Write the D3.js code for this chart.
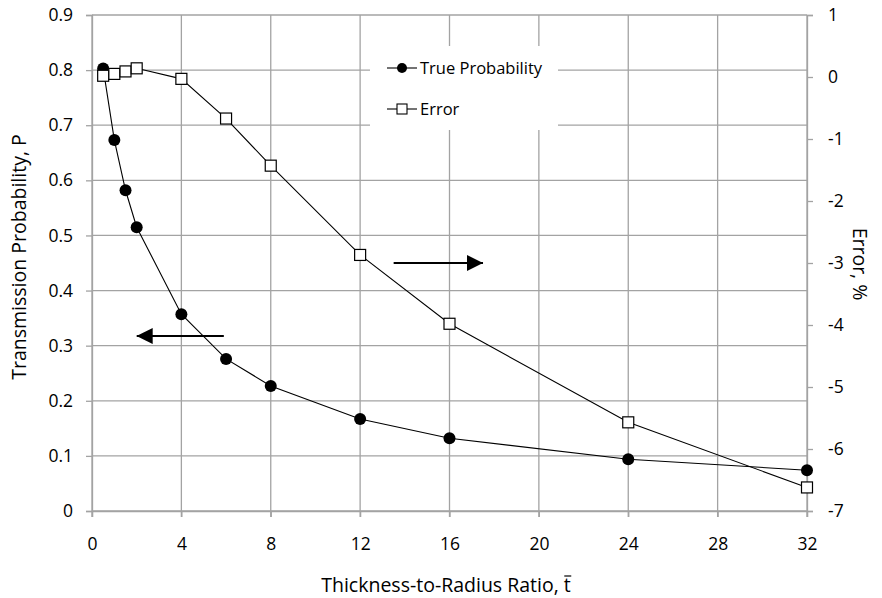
<!DOCTYPE html>
<html>
<head>
<meta charset="utf-8">
<script src="https://cdn.jsdelivr.net/npm/d3@7"></script>
<style>
  html, body { margin: 0; padding: 0; background: #fff; }
  svg text { font-family: "Open Sans", Lato, "Liberation Sans", sans-serif; fill: #000; }
</style>
</head>
<body>
<svg id="chart" width="882" height="598"></svg>
<script>
// Thickness-to-radius ratio values
const ratios = [0.5, 1, 1.5, 2, 4, 6, 8, 12, 16, 24, 32];
// Transmission probability (left axis)
const trueProbability = [0.803, 0.673, 0.582, 0.515, 0.357, 0.276, 0.227, 0.167, 0.132, 0.094, 0.074];
// Error in percent (right axis)
const errorPct = [0.02, 0.05, 0.09, 0.14, -0.03, -0.67, -1.43, -2.87, -3.98, -5.57, -6.62];

const xTicks = [0, 4, 8, 12, 16, 20, 24, 28, 32];
const leftTicks = [0, 0.1, 0.2, 0.3, 0.4, 0.5, 0.6, 0.7, 0.8, 0.9];
const rightTicks = [-7, -6, -5, -4, -3, -2, -1, 0, 1];

const svg = d3.select("#chart");
const plot = { left: 92, right: 807, top: 15, bottom: 511 };
const grid = "#a3a3a3";
const font = "'Open Sans', Lato, sans-serif";

const x = d3.scaleLinear().domain([0, 32]).range([plot.left, plot.right]);
const yL = d3.scaleLinear().domain([0, 0.9]).range([plot.bottom, plot.top]);
const yR = d3.scaleLinear().domain([-7, 1]).range([plot.bottom, plot.top]);

// Gridlines
const g = svg.append("g");
g.selectAll(".hg").data(leftTicks).join("line")
  .attr("x1", plot.left).attr("x2", plot.right)
  .attr("y1", d => yL(d)).attr("y2", d => yL(d))
  .attr("stroke", grid).attr("stroke-width", 1.3);
g.selectAll(".vg").data(xTicks).join("line")
  .attr("x1", d => x(d)).attr("x2", d => x(d))
  .attr("y1", plot.top).attr("y2", plot.bottom + 6)
  .attr("stroke", grid).attr("stroke-width", 1.3);

// Axes
const axisL = svg.append("g").attr("transform", `translate(${plot.left},0)`)
  .call(d3.axisLeft(yL).tickValues(leftTicks).tickSize(6).tickPadding(13));
axisL.selectAll(".tick text").text(d => d === 0 ? "0" : d3.format(".1f")(d));
const axisR = svg.append("g").attr("transform", `translate(${plot.right},0)`)
  .call(d3.axisRight(yR).tickValues(rightTicks).tickSize(6).tickPadding(15));
axisR.selectAll(".tick text").text(d => d < 0 ? "-" + Math.abs(d) : d);
const axisB = svg.append("g").attr("transform", `translate(0,${plot.bottom})`)
  .call(d3.axisBottom(x).tickValues(xTicks).tickSize(6).tickPadding(21).tickFormat(d3.format("d")));

[axisL, axisR, axisB].forEach(a => {
  a.select(".domain").attr("stroke", grid).attr("stroke-width", 1.3);
  a.selectAll(".tick line").attr("stroke", grid).attr("stroke-width", 1.3);
  a.selectAll(".tick text").attr("font-size", 17.5).style("font-family", font);
});

// Axis titles
svg.append("text")
  .attr("transform", `translate(26,257) rotate(-90)`)
  .attr("text-anchor", "middle").attr("font-size", 19.5)
  .text("Transmission Probability, P");
svg.append("text")
  .attr("transform", `translate(853,264) rotate(90)`)
  .attr("text-anchor", "middle").attr("font-size", 19.5)
  .text("Error, %");
const xTitle = "Thickness-to-Radius Ratio, t";
const xt = svg.append("text")
  .attr("x", 446).attr("y", 592)
  .attr("text-anchor", "middle").attr("font-size", 19.5)
  .text(xTitle);
// bar over the final "t"
const tBox = xt.node().getExtentOfChar(xTitle.length - 1);
svg.append("line")
  .attr("x1", tBox.x + 0.5).attr("x2", tBox.x + tBox.width + 0.5)
  .attr("y1", 592 - 16).attr("y2", 592 - 16)
  .attr("stroke", "#000").attr("stroke-width", 1.2);

// Legend background
svg.append("rect").attr("x", 370).attr("y", 46).attr("width", 188).attr("height", 84).attr("fill", "#fff");

// Direction arrows
svg.append("defs").append("marker")
  .attr("id", "head").attr("viewBox", "0 0 16 16").attr("refX", 16).attr("refY", 8)
  .attr("markerWidth", 16).attr("markerHeight", 16).attr("markerUnits", "userSpaceOnUse")
  .attr("orient", "auto")
  .append("path").attr("d", "M0,0 L16,8 L0,16 Z").attr("fill", "#000");
svg.append("line")
  .attr("x1", x(13.5)).attr("x2", x(17.5)).attr("y1", yL(0.45)).attr("y2", yL(0.45))
  .attr("stroke", "#000").attr("stroke-width", 2).attr("marker-end", "url(#head)");
svg.append("line")
  .attr("x1", x(5.9)).attr("x2", x(2.0)).attr("y1", yL(0.3175)).attr("y2", yL(0.3175))
  .attr("stroke", "#000").attr("stroke-width", 2).attr("marker-end", "url(#head)");

// True probability series
const probPts = ratios.map((r, i) => [r, trueProbability[i]]);
svg.append("path").datum(probPts)
  .attr("d", d3.line().x(d => x(d[0])).y(d => yL(d[1])))
  .attr("fill", "none").attr("stroke", "#000").attr("stroke-width", 1.1);
svg.selectAll(".dot").data(probPts).join("circle")
  .attr("cx", d => x(d[0])).attr("cy", d => yL(d[1])).attr("r", 6).attr("fill", "#000");

// Error series
const errPts = ratios.map((r, i) => [r, errorPct[i]]);
svg.append("path").datum(errPts)
  .attr("d", d3.line().x(d => x(d[0])).y(d => yR(d[1])))
  .attr("fill", "none").attr("stroke", "#000").attr("stroke-width", 1.1);
svg.selectAll(".sq").data(errPts).join("rect")
  .attr("x", d => x(d[0]) - 5.5).attr("y", d => yR(d[1]) - 5.5)
  .attr("width", 11).attr("height", 11)
  .attr("fill", "#fff").attr("stroke", "#000").attr("stroke-width", 1.2);

// Legend entries
const leg = svg.append("g");
leg.append("line").attr("x1", 387).attr("x2", 417).attr("y1", 68).attr("y2", 68).attr("stroke", "#000").attr("stroke-width", 1.1);
leg.append("circle").attr("cx", 402).attr("cy", 68).attr("r", 5).attr("fill", "#000");
leg.append("text").attr("x", 420).attr("y", 74).attr("font-size", 16.5).text("True Probability");
leg.append("line").attr("x1", 387).attr("x2", 417).attr("y1", 109).attr("y2", 109).attr("stroke", "#000").attr("stroke-width", 1.1);
leg.append("rect").attr("x", 397).attr("y", 104).attr("width", 10).attr("height", 10).attr("fill", "#fff").attr("stroke", "#000").attr("stroke-width", 1.1);
leg.append("text").attr("x", 420).attr("y", 115).attr("font-size", 16.5).text("Error");
</script>
</body>
</html>
